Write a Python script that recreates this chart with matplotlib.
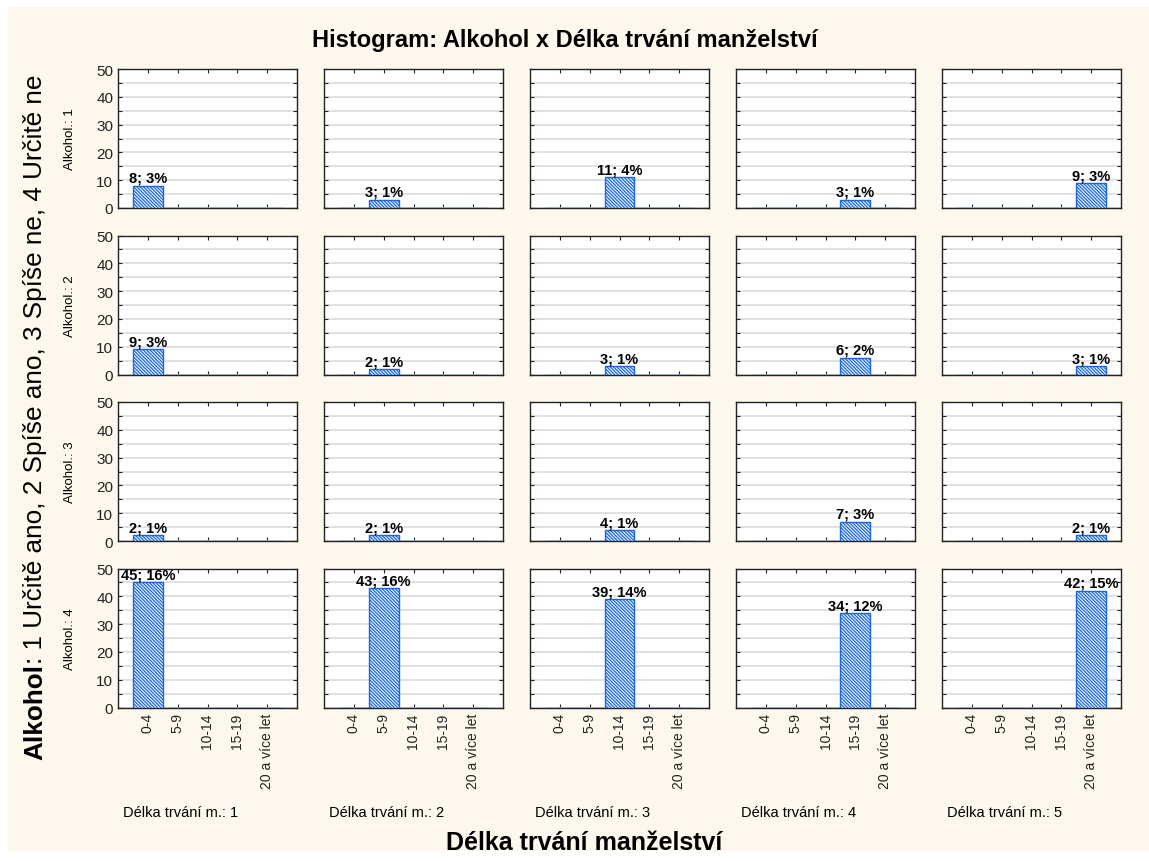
import matplotlib.pyplot as plt
from matplotlib.patches import Rectangle
from matplotlib.ticker import MultipleLocator

plt.rcParams['font.family'] = ['Liberation Sans', 'DejaVu Sans']
plt.rcParams['hatch.linewidth'] = 0.9

# histogram counts: rows = Alkohol 1..4, columns = Délka trvání m. 1..5
bins = ['0-4', '5-9', '10-14', '15-19', '20 a více let']
alkohol_levels = ['1', '2', '3', '4']
delka_levels = ['1', '2', '3', '4', '5']
alkohol_1 = [8, 3, 11, 3, 9]
alkohol_2 = [9, 2, 3, 6, 3]
alkohol_3 = [2, 2, 4, 7, 2]
alkohol_4 = [45, 43, 39, 34, 42]
counts = [alkohol_1, alkohol_2, alkohol_3, alkohol_4]
total = sum(sum(row) for row in counts)

W, H = 1149, 862
BG = '#fdf8ee'
BAR_EDGE = '#1a66dd'

fig = plt.figure(figsize=(W / 100, H / 100), dpi=100)
fig.patches.append(Rectangle((8 / W, 10 / H), 1 - 8 / W, 1 - 18 / H,
                             transform=fig.transFigure, facecolor=BG,
                             edgecolor='none', zorder=-10))

left0, top0 = 118, 70
col_w, col_pitch = 179, 206
row_h, row_pitch = 139, 166.5

axes = []
for r, row in enumerate(counts):
    for c, n in enumerate(row):
        x0 = left0 + c * col_pitch
        y0 = top0 + r * row_pitch
        ax = fig.add_axes([x0 / W, 1 - (y0 + row_h) / H, col_w / W, row_h / H])
        axes.append(ax)
        heights = [n if b == c else 0 for b in range(len(bins))]
        ax.bar(range(len(bins)), heights, width=1.0, facecolor='#f4faff',
               edgecolor=BAR_EDGE, hatch='\\' * 10, linewidth=1.0, zorder=3)
        ax.text(c, n + 0.3, f'{n}; {round(100 * n / total)}%', ha='center',
                va='bottom', fontsize=10.5, fontweight='bold', zorder=4,
                clip_on=False)

        ax.set_xlim(-1, 5)
        ax.set_ylim(0, 50)
        ax.set_xticks(range(len(bins)))
        ax.yaxis.set_major_locator(MultipleLocator(10))
        ax.yaxis.set_minor_locator(MultipleLocator(5))
        ax.grid(axis='y', which='both', color='#dcdcdc', linewidth=1.2, zorder=0)
        ax.set_axisbelow(True)
        ax.tick_params(which='both', direction='in', top=True, right=True,
                       length=3, width=0.8, colors='#222222', labelsize=11)
        for sp in ax.spines.values():
            sp.set_color('#222222')
            sp.set_linewidth(1.0)

        if r == len(counts) - 1:
            ax.set_xticklabels(bins, rotation=90, fontsize=10)
        else:
            ax.set_xticklabels([])
        if c != 0:
            ax.set_yticklabels([])
        else:
            fig.text(70 / W, 1 - (y0 + row_h / 2) / H,
                     f'Alkohol.: {alkohol_levels[r]}', rotation=90,
                     ha='center', va='center', fontsize=9.5)

        if r == 0:
            fig.text((x0 + 63) / W, 1 - 813 / H,
                     f'Délka trvání m.: {delka_levels[c]}', ha='center',
                     va='center', fontsize=10.5)

fig.text(565 / W, 1 - 41 / H, 'Histogram: Alkohol x Délka trvání manželství',
         ha='center', va='center', fontsize=17, fontweight='bold')
fig.text(584 / W, 1 - 843 / H, 'Délka trvání manželství', ha='center',
         va='center', fontsize=18, fontweight='bold')

bold = fig.text(35 / W, 1 - 760 / H, 'Alkohol', rotation=90, ha='center',
                va='bottom', fontsize=18.8, fontweight='bold')
axes[0].annotate(': 1 Určitě ano, 2 Spíše ano, 3 Spíše ne, 4 Určitě ne',
                 xy=(0.5, 1.0), xycoords=bold, rotation=90,
                 ha='center', va='bottom', fontsize=18.8,
                 annotation_clip=False)

fig.savefig('out.png', dpi=100, facecolor='white')
